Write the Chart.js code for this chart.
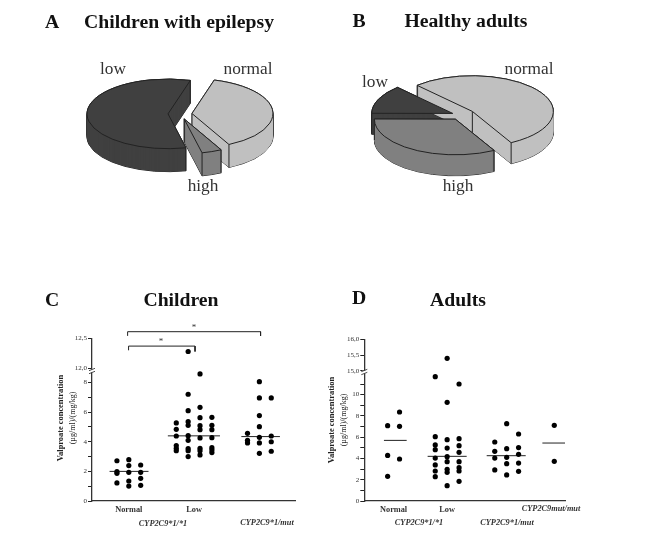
<!DOCTYPE html>
<html>
<head>
<meta charset="utf-8">
<title>Valproate</title>
<script src="https://cdn.jsdelivr.net/npm/chart.js@4"></script>
<style>
  html, body { margin: 0; padding: 0; background: #fff; }
  #page { position: relative; width: 657px; height: 542px; overflow: hidden; filter: blur(0.35px); }
  canvas { position: absolute; }
  .t { position: absolute; transform: translate(-50%, -50%); white-space: nowrap; font-family: "Liberation Serif", serif; color: #111; }
  .head { font-weight: bold; font-size: 19.7px; }
  .pie { font-size: 17.3px; color: #333; }
  .cyp { font-weight: bold; font-style: italic; font-size: 8.3px; color: #333; }
  .star { font-size: 9px; color: #333; }
  .ya { font-weight: bold; font-size: 8.4px; color: #222; transform: translate(-50%, -50%) rotate(-90deg); }
  .yb { font-size: 8px; color: #222; transform: translate(-50%, -50%) rotate(-90deg); }
</style>
</head>
<body>
<div id="page">
  <canvas id="pieA" width="240" height="140" style="left:60px;top:44px"></canvas>
  <canvas id="pieB" width="240" height="140" style="left:341px;top:45px"></canvas>
  <canvas id="dotC" width="270" height="205" style="left:40px;top:325px"></canvas>
  <canvas id="dotD" width="270" height="205" style="left:320px;top:325px"></canvas>

  <div class="t head" style="left:52px;top:21px">A</div>
  <div class="t head" style="left:179px;top:21px">Children with epilepsy</div>
  <div class="t head" style="left:359px;top:20px">B</div>
  <div class="t head" style="left:466px;top:20px">Healthy adults</div>
  <div class="t head" style="left:52px;top:299px">C</div>
  <div class="t head" style="left:181px;top:299px">Children</div>
  <div class="t head" style="left:359px;top:297px">D</div>
  <div class="t head" style="left:458px;top:299px">Adults</div>

  <div class="t pie" style="left:113px;top:69px">low</div>
  <div class="t pie" style="left:248px;top:69px">normal</div>
  <div class="t pie" style="left:203px;top:186px">high</div>
  <div class="t pie" style="left:375px;top:82px">low</div>
  <div class="t pie" style="left:529px;top:69px">normal</div>
  <div class="t pie" style="left:458px;top:186px">high</div>

  <div class="t star" style="left:194px;top:327px">*</div>
  <div class="t star" style="left:161px;top:341px">*</div>

  <div class="t ya" style="left:60px;top:418px">Valproate concentration</div>
  <div class="t yb" style="left:72px;top:418px">(µg/ml)/(mg/kg)</div>
  <div class="t ya" style="left:331px;top:420px">Valproate concentration</div>
  <div class="t yb" style="left:343px;top:420px">(µg/ml)/(mg/kg)</div>

  <div class="t cyp" style="left:163px;top:523px">CYP2C9*1/*1</div>
  <div class="t cyp" style="left:267px;top:522px">CYP2C9*1/mut</div>
  <div class="t cyp" style="left:419px;top:522px">CYP2C9*1/*1</div>
  <div class="t cyp" style="left:507px;top:522px">CYP2C9*1/mut</div>
  <div class="t cyp" style="left:551px;top:508px">CYP2C9mut/mut</div>
</div>

<script>
// pie shares (%), clockwise from the first cut
var pieLabels = ['normal', 'high', 'low'];
var childrenShares = [38, 4, 58];
var adultShares = [54, 33, 13];

// panel C, one inner list per column of dots
var childNormalCols = [1, 2, 3];
var childNormal = [
  [2.72, 1.98, 1.87, 1.22],
  [2.79, 2.39, 1.94, 1.35, 1.01],
  [2.43, 1.94, 1.53, 1.06]
];
var childLowCols = [6, 7, 8, 9];
var childLow = [
  [5.27, 4.84, 4.39, 3.74, 3.56, 3.4],
  [7.21, 6.1, 5.36, 5.11, 4.41, 4.1, 3.54, 3.4, 3.0],
  [8.58, 6.33, 5.63, 5.09, 4.82, 4.26, 3.56, 3.4, 3.11],
  [5.65, 5.11, 4.82, 4.28, 3.6, 3.45, 3.27]
];
var childMutCols = [12, 13, 14];
var childMut = [
  [4.57, 4.1, 3.92],
  [8.06, 6.96, 5.77, 5.02, 4.3, 3.92, 3.22],
  [6.96, 4.39, 4.0, 3.36]
];
var childHighDot = [{x: 7, y: 12.28}];
var childMedians = [2.0, 4.4, 4.35];
var childMedianEnds = [[0.38, 3.66], [5.29, 9.68], [11.48, 14.73]];
var childBracketX = [[1.9, 1.9, 13.1, 13.1], [1.98, 1.98, 7.58, 7.58]];
var childBracketY = [[12.54, 12.61, 12.61, 12.54], [12.3, 12.37, 12.37, 12.28]];
var childXLabels = ['Normal', 'Low'];
var childXTicks = [2, 7.5];

// panel D
var adultNormalCols = [1, 2];
var adultNormal = [
  [7.08, 4.29, 2.32],
  [8.37, 7.02, 3.95]
];
var adultLowCols = [5, 6, 7];
var adultLow = [
  [11.69, 6.05, 5.27, 4.83, 4.04, 3.39, 2.82, 2.29],
  [9.28, 5.77, 4.98, 4.17, 3.7, 2.98, 2.7, 1.44],
  [11.0, 5.86, 5.2, 4.58, 3.7, 3.13, 2.82, 1.85]
];
var adultMutCols = [10, 11, 12];
var adultMut = [
  [5.55, 4.67, 4.04, 2.92],
  [7.27, 4.92, 4.11, 3.51, 2.45],
  [6.3, 5.02, 4.39, 3.57, 2.79]
];
var adultMutMutCols = [15];
var adultMutMut = [[7.12, 3.73]];
var adultHighDot = [{x: 6, y: 15.4}];
var adultMedians = [5.7, 4.2, 4.26, 5.45];
var adultMedianEnds = [[0.69, 2.6], [4.36, 7.64], [9.32, 12.6], [14, 15.9]];
var adultXLabels = ['Normal', 'Low'];
var adultXTicks = [1.5, 6];

var childLowerTicks = [0, 1, 2, 3, 4, 5, 6, 7, 8];
var childUpperTicks = [12, 12.5];
var adultLowerTicks = [0, 1, 2, 3, 4, 5, 6, 7, 8, 9, 10, 11];
var adultUpperTicks = [15, 15.5, 16];

var ink = '#222';
var serif = '"Liberation Serif", serif';

// tilted pie: the library draws the tops, this adds the squash, the burst and the sides
function slicePath(ctx, el, cy, k, dy) {
  var yy = cy + (el.y - cy) * k + dy;
  ctx.beginPath();
  ctx.moveTo(el.x, yy);
  ctx.ellipse(el.x, yy, el.outerRadius, el.outerRadius * k, 0, el.startAngle, el.endAngle);
  ctx.closePath();
}

var tiltPlugin = {
  id: 'tilt',
  afterDatasetsUpdate: function (chart, args, opts) {
    chart.getDatasetMeta(0).data.forEach(function (el, i) {
      var mid = (el.startAngle + el.endAngle) / 2;
      el.x += Math.cos(mid) * opts.burst[i];
      el.y += Math.sin(mid) * opts.burst[i];
    });
  },
  beforeDatasetsDraw: function (chart, args, opts) {
    var ctx = chart.ctx;
    var arcs = chart.getDatasetMeta(0).data;
    var cy = (chart.chartArea.top + chart.chartArea.bottom) / 2;
    var k = opts.squash;
    var d;
    ctx.lineWidth = 1;
    ctx.strokeStyle = ink;
    opts.order.forEach(function (i) {
      var el = arcs[i];
      // outline of the whole solid first, then the fill over its inside
      for (d = opts.depth; d >= 0; d--) {
        slicePath(ctx, el, cy, k, d);
        ctx.stroke();
      }
      ctx.fillStyle = el.options.backgroundColor;
      for (d = opts.depth; d >= 0; d--) {
        slicePath(ctx, el, cy, k, d);
        ctx.fill();
      }
      var yy = cy + (el.y - cy) * k;
      [el.startAngle, el.endAngle].forEach(function (a) {
        var px = el.x + Math.cos(a) * el.outerRadius;
        var py = yy + Math.sin(a) * el.outerRadius * k;
        ctx.beginPath();
        ctx.moveTo(px, py);
        ctx.lineTo(px, py + opts.depth);
        ctx.stroke();
      });
      ctx.beginPath();
      ctx.moveTo(el.x, yy);
      ctx.lineTo(el.x, yy + opts.depth);
      ctx.stroke();
    });
    ctx.save();
    ctx.translate(0, cy);
    ctx.scale(1, k);
    ctx.translate(0, -cy);
  },
  afterDatasetsDraw: function (chart, args, opts) {
    var ctx = chart.ctx;
    ctx.restore();
    var cy = (chart.chartArea.top + chart.chartArea.bottom) / 2;
    ctx.lineWidth = 1;
    ctx.strokeStyle = ink;
    chart.getDatasetMeta(0).data.forEach(function (el) {
      slicePath(ctx, el, cy, opts.squash, 0);
      ctx.stroke();
    });
  }
};

function makePie(id, shares, rotation, radius, tilt) {
  new Chart(document.getElementById(id), {
    type: 'pie',
    data: {
      labels: pieLabels,
      datasets: [{
        data: shares,
        backgroundColor: ['#c0c0c0', '#808080', '#404040'],
        borderWidth: 0,
        clip: false
      }]
    },
    options: {
      responsive: false,
      animation: false,
      rotation: rotation,
      radius: radius,
      plugins: {legend: {display: false}, tooltip: {enabled: false}, tilt: tilt}
    },
    plugins: [tiltPlugin]
  });
}

makePie('pieA', childrenShares, 16, 81, {squash: 0.43, depth: 23, burst: [12, 12, 12], order: [2, 0, 1]});
makePie('pieB', adultShares, -43, 81, {squash: 0.44, depth: 21, burst: [14, 11, 9], order: [2, 0, 1]});

// dots and lines
function columnPoints(cols, lists) {
  var pts = [];
  lists.forEach(function (vals, i) {
    vals.forEach(function (v) { pts.push({x: cols[i], y: v}); });
  });
  return pts;
}

function dots(points, axis) {
  return {data: points, yAxisID: axis, pointRadius: 2.6, pointBackgroundColor: '#000', pointBorderWidth: 0, showLine: false, clip: false};
}

function trace(xs, ys, axis) {
  var pts = xs.map(function (x, i) { return {x: x, y: ys[i]}; });
  return {data: pts, yAxisID: axis, pointRadius: 0, borderColor: '#222', borderWidth: 1, showLine: true, clip: false};
}

// axis break marks
var breakPlugin = {
  id: 'axisBreak',
  afterDraw: function (chart) {
    var ctx = chart.ctx;
    var x = chart.scales.low.right;
    var y = chart.scales.low.top;
    ctx.save();
    ctx.fillStyle = '#fff';
    ctx.fillRect(x - 2, y - 1.5, 4, 3);
    ctx.strokeStyle = ink;
    ctx.lineWidth = 0.8;
    [-1.5, 1.5].forEach(function (o) {
      ctx.beginPath();
      ctx.moveTo(x - 3, y + o + 1.2);
      ctx.lineTo(x + 3, y + o - 1.2);
      ctx.stroke();
    });
    ctx.restore();
  }
};

function yAxis(tickList, min, max, weight, label, boxWeight, width) {
  return {
    position: 'left',
    stack: 'conc',
    stackWeight: weight,
    weight: boxWeight,
    min: min,
    max: max,
    grid: {drawOnChartArea: false, tickLength: 4, tickColor: ink},
    border: {color: '#333', width: 1.3},
    afterBuildTicks: function (s) { s.ticks = tickList.map(function (v) { return {value: v}; }); },
    afterFit: function (s) { s.width = width; },
    ticks: {
      autoSkip: false,
      padding: 1,
      color: '#333',
      font: {family: serif, size: 7},
      callback: label
    }
  };
}

function makeDotPlot(id, cfg) {
  new Chart(document.getElementById(id), {
    type: 'scatter',
    data: {datasets: cfg.datasets},
    options: {
      responsive: false,
      animation: false,
      layout: {padding: cfg.padding},
      plugins: {legend: {display: false}, tooltip: {enabled: false}},
      scales: {
        x: {
          type: 'linear',
          min: cfg.xMin,
          max: cfg.xMax,
          grid: {display: false, drawTicks: false},
          border: {color: '#333', width: 1.3},
          afterBuildTicks: function (s) { s.ticks = cfg.xTicks.map(function (v) { return {value: v}; }); },
          afterFit: function (s) { s.height = 29; },
          ticks: {
            autoSkip: false,
            maxRotation: 0,
            padding: 4,
            color: '#333',
            font: {family: serif, size: 8.3, weight: 'bold'},
            callback: function (v, i) { return cfg.xLabels[i]; }
          }
        },
        low: yAxis(cfg.lowerTicks, 0, cfg.lowerMax, cfg.lowerPx, function (v) { return v % 2 ? '' : v; }, 0, cfg.axisWidth),
        up: yAxis(cfg.upperTicks, cfg.upperMin, cfg.upperMax, cfg.upperPx, function (v) { return v.toFixed(1).replace('.', ','); }, 1, cfg.axisWidth)
      }
    },
    plugins: [breakPlugin]
  });
}

var childSets = [
  dots(columnPoints(childNormalCols, childNormal), 'low'),
  dots(columnPoints(childLowCols, childLow), 'low'),
  dots(columnPoints(childMutCols, childMut), 'low'),
  dots(childHighDot, 'up')
];
childMedians.forEach(function (m, i) {
  childSets.push(trace(childMedianEnds[i], [m, m], 'low'));
});
childBracketX.forEach(function (xs, i) {
  childSets.push(trace(xs, childBracketY[i], 'up'));
});

makeDotPlot('dotC', {
  datasets: childSets,
  axisWidth: 52,
  padding: {top: 13.3, right: 15, left: 0, bottom: 0},
  xMin: -1.1, xMax: 16,
  xTicks: childXTicks, xLabels: childXLabels,
  lowerTicks: childLowerTicks, lowerMax: 8.78, lowerPx: 130,
  upperTicks: childUpperTicks, upperMin: 11.955, upperMax: 12.5, upperPx: 32.7
});

var adultSets = [
  dots(columnPoints(adultNormalCols, adultNormal), 'low'),
  dots(columnPoints(adultLowCols, adultLow), 'low'),
  dots(columnPoints(adultMutCols, adultMut), 'low'),
  dots(columnPoints(adultMutMutCols, adultMutMut), 'low'),
  dots(adultHighDot, 'up')
];
adultMedians.forEach(function (m, i) {
  adultSets.push(trace(adultMedianEnds[i], [m, m], 'low'));
});

makeDotPlot('dotD', {
  datasets: adultSets,
  axisWidth: 44.3,
  padding: {top: 14.3, right: 25, left: 0, bottom: 0},
  xMin: -0.96, xMax: 15.9,
  xTicks: adultXTicks, xLabels: adultXLabels,
  lowerTicks: adultLowerTicks, lowerMax: 12.13, lowerPx: 129,
  upperTicks: adultUpperTicks, upperMin: 14.968, upperMax: 16, upperPx: 32.7
});
</script>
</body>
</html>
